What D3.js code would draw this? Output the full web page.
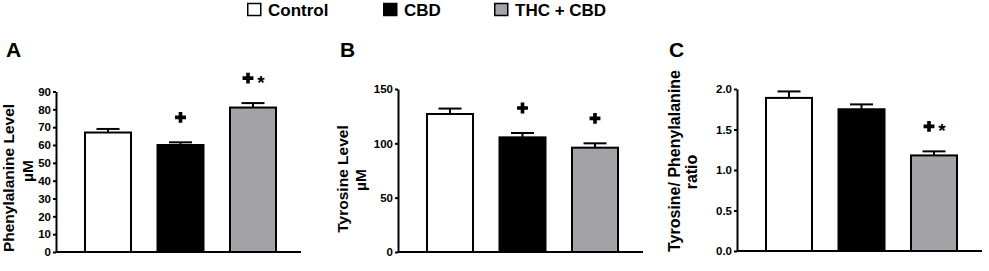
<!DOCTYPE html>
<html>
<head>
<meta charset="utf-8">
<script src="https://cdn.jsdelivr.net/npm/d3@7"></script>
<style>
  body { margin: 0; background: #fff; }
  text { font-family: "Liberation Sans", Arial, sans-serif; font-weight: bold; fill: #000; }
</style>
</head>
<body>
<div id="wrapper"></div>
<script>
// groups and values (mean, upper error = SEM)
const groups = ["Control", "CBD", "THC + CBD"];
const groupFill = ["#ffffff", "#000000", "#a3a3a7"];

const pheMean = [67, 60, 81];
const pheSem = [2, 1.5, 2.5];
const pheMarks = ["", "+", "+*"];
const pheTicks = [0, 10, 20, 30, 40, 50, 60, 70, 80, 90];

const tyrMean = [127, 105.5, 96];
const tyrSem = [5, 4, 4];
const tyrMarks = ["", "+", "+"];
const tyrTicks = [0, 50, 100, 150];

const ratioMean = [1.89, 1.75, 1.18];
const ratioSem = [0.08, 0.06, 0.05];
const ratioMarks = ["", "", "+*"];
const ratioTicks = [0, 0.5, 1.0, 1.5, 2.0];

const width = 989;
const height = 271;

const svg = d3.select("#wrapper")
  .append("svg")
  .attr("width", width)
  .attr("height", height);

// legend
const legend = svg.append("g");
const legendX = [247, 383, 494];
groups.forEach(function (g, i) {
  legend.append("rect")
    .attr("x", legendX[i] + 0.75).attr("y", 3.5)
    .attr("width", 13).attr("height", 12)
    .attr("fill", groupFill[i])
    .attr("stroke", "#000").attr("stroke-width", 1.5);
  legend.append("text")
    .attr("x", legendX[i] + 21).attr("y", 16)
    .attr("font-size", 17)
    .text(g);
});

function drawPanel(opt) {
  const g = svg.append("g");
  const y = d3.scaleLinear()
    .domain([0, opt.max])
    .range([opt.bottom, opt.top]);
  const x = d3.scalePoint()
    .domain(groups)
    .range([opt.ax + 52, opt.ax + 197]);
  const barW = 46;

  // panel letter
  g.append("text")
    .attr("x", opt.letterX).attr("y", 57)
    .attr("font-size", 21)
    .text(opt.letter);

  // bars
  g.selectAll(".bar")
    .data(opt.mean)
    .enter().append("rect")
    .attr("x", (d, i) => x(groups[i]) - barW / 2)
    .attr("y", d => y(d))
    .attr("width", barW)
    .attr("height", d => opt.bottom - y(d))
    .attr("fill", (d, i) => groupFill[i])
    .attr("stroke", "#000")
    .attr("stroke-width", 2);

  // error bars (upper only)
  opt.mean.forEach(function (m, i) {
    const cx = x(groups[i]);
    g.append("line")
      .attr("x1", cx).attr("x2", cx)
      .attr("y1", y(m)).attr("y2", y(m + opt.sem[i]))
      .attr("stroke", "#000").attr("stroke-width", 2);
    g.append("line")
      .attr("x1", cx - 11.5).attr("x2", cx + 11.5)
      .attr("y1", y(m + opt.sem[i])).attr("y2", y(m + opt.sem[i]))
      .attr("stroke", "#000").attr("stroke-width", 2);

    // significance marks
    const mark = opt.marks[i];
    if (mark) {
      const my = y(m + opt.sem[i]) - 25;
      const px = mark.length > 1 ? cx - 5 : cx;
      g.append("path")
        .attr("d", d3.symbol(d3.symbolCross, 66)())
        .attr("transform", "translate(" + px + "," + my + ")")
        .attr("fill", "#000");
      if (mark.indexOf("*") >= 0) {
        g.append("text")
          .attr("x", cx + 8).attr("y", my + 11)
          .attr("font-size", 19)
          .attr("text-anchor", "middle")
          .text("*");
      }
    }
  });

  // y axis
  const yAxis = g.append("g")
    .attr("transform", "translate(" + opt.ax + ",0)")
    .call(d3.axisLeft(y)
      .tickValues(opt.ticks)
      .tickFormat(opt.fmt)
      .tickSize(3)
      .tickSizeOuter(0)
      .tickPadding(2));
  yAxis.select(".domain").attr("stroke", "#000").attr("stroke-width", 2);
  yAxis.selectAll(".tick line").attr("stroke", "#000").attr("stroke-width", 2);
  yAxis.selectAll(".tick text")
    .attr("font-size", 11.5)
    .attr("font-family", "Liberation Sans, Arial, sans-serif")
    .attr("font-weight", "bold")
    .attr("fill", "#000");

  // x axis line
  g.append("line")
    .attr("x1", opt.ax).attr("x2", opt.ax + 245)
    .attr("y1", opt.bottom).attr("y2", opt.bottom)
    .attr("stroke", "#000").attr("stroke-width", 2);

  // y axis title (two lines)
  opt.title.forEach(function (t) {
    g.append("text")
      .attr("transform", "translate(" + t.x + "," + t.y + ") rotate(-90)")
      .attr("text-anchor", "middle")
      .attr("font-size", t.size)
      .text(t.s);
  });
}

drawPanel({
  letter: "A", letterX: 6, ax: 56, top: 91.5, bottom: 252, max: 90,
  mean: pheMean, sem: pheSem, marks: pheMarks, ticks: pheTicks, fmt: d3.format("d"),
  title: [{ s: "Phenylalanine Level", x: 14, y: 178, size: 15.5 }, { s: "µM", x: 33, y: 171, size: 15.5 }]
});

drawPanel({
  letter: "B", letterX: 340, ax: 398, top: 89, bottom: 252, max: 150,
  mean: tyrMean, sem: tyrSem, marks: tyrMarks, ticks: tyrTicks, fmt: d3.format("d"),
  title: [{ s: "Tyrosine Level", x: 348, y: 179, size: 15.5 }, { s: "µM", x: 366, y: 180, size: 15.5 }]
});

drawPanel({
  letter: "C", letterX: 669, ax: 737, top: 89, bottom: 251, max: 2,
  mean: ratioMean, sem: ratioSem, marks: ratioMarks, ticks: ratioTicks, fmt: d3.format(".1f"),
  title: [{ s: "Tyrosine/ Phenylalanine", x: 680, y: 161, size: 16 }, { s: "ratio", x: 697, y: 172, size: 16 }]
});
</script>
</body>
</html>
